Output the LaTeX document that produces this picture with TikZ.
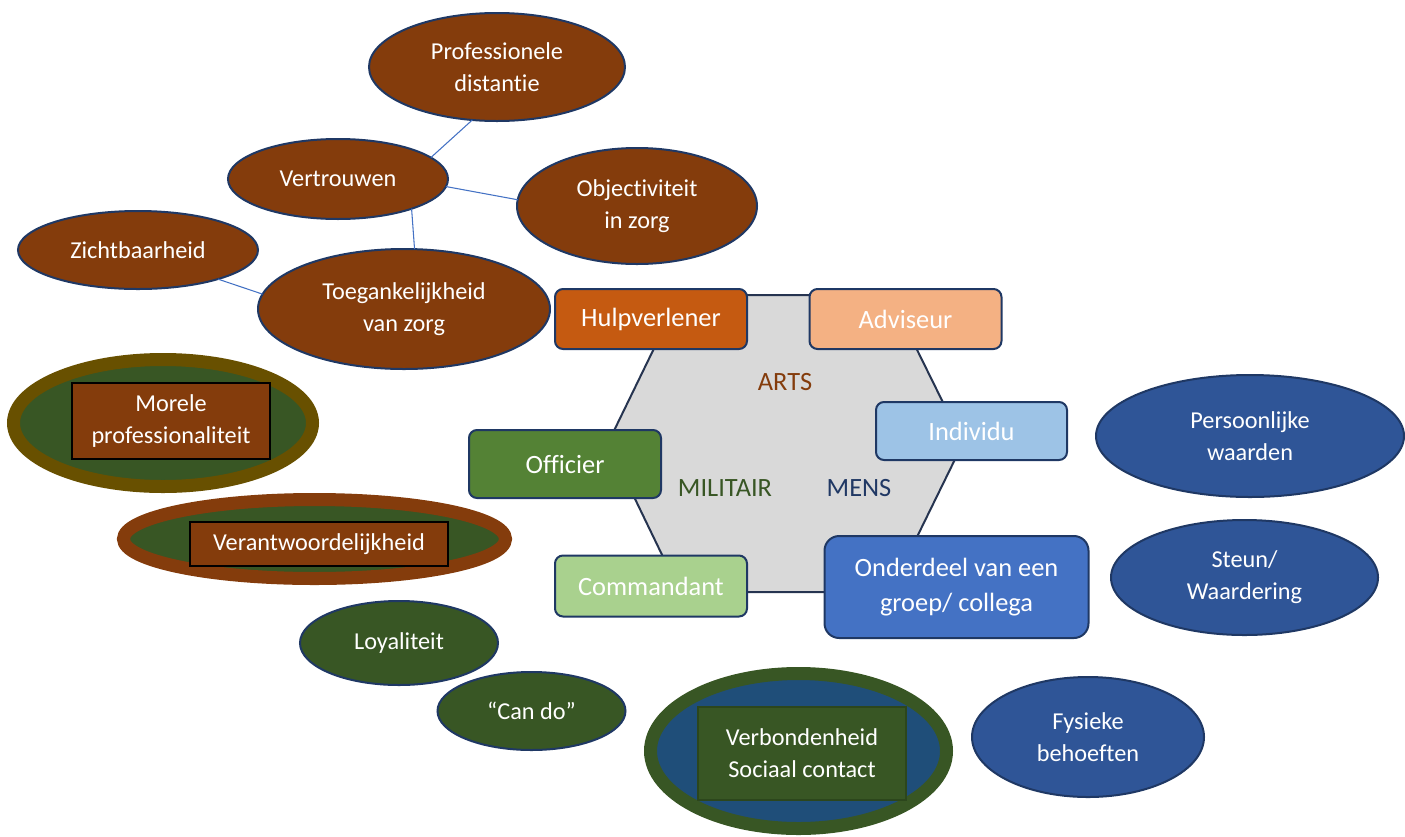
\documentclass[tikz,border=0pt]{standalone}
\usepackage{fontspec}
\setmainfont[Ligatures=NoCommon]{Carlito}
\usetikzlibrary{shapes.geometric}
\definecolor{brn}{RGB}{132,60,12}
\definecolor{navy}{RGB}{31,56,100}
\definecolor{hulpc}{RGB}{197,90,17}
\definecolor{advc}{RGB}{244,177,131}
\definecolor{indc}{RGB}{157,195,230}
\definecolor{offc}{RGB}{84,130,53}
\definecolor{comc}{RGB}{169,209,142}
\definecolor{ondc}{RGB}{68,114,196}
\definecolor{dkgreen}{RGB}{56,86,36}
\definecolor{olive}{RGB}{104,80,0}
\definecolor{verbblue}{RGB}{31,78,121}
\definecolor{rblue}{RGB}{47,85,151}
\definecolor{hexfill}{RGB}{217,217,217}
\definecolor{hexline}{RGB}{38,52,80}
\definecolor{conn}{RGB}{68,114,196}
\definecolor{lblnavy}{RGB}{32,56,100}
\definecolor{rectgreen}{RGB}{44,70,28}
\newcommand\diagfont{\fontsize{18.2}{24}\selectfont}
\newcommand\boxfont{\fontsize{19.8}{26.2}\selectfont}
\tikzset{
  base/.style={font=\diagfont, text=white, align=center, inner sep=0pt, outer sep=0pt},
  bell/.style n args={3}{base, ellipse, draw=navy, line width=1.5pt, fill=#3, minimum width=#1*1.5pt, minimum height=#2*1.5pt},
  ring/.style n args={4}{ellipse, draw=#4, line width=9.75pt, fill=#3, minimum width=#1*1.5pt, minimum height=#2*1.5pt, inner sep=0pt},
  rbox/.style n args={3}{base, font=\boxfont, rectangle, rounded corners=6pt, draw=navy, line width=1.5pt, fill=#3, minimum width=#1*0.75pt, minimum height=#2*0.75pt},
  ibox/.style n args={4}{base, rectangle, draw=#4, line width=1.2pt, fill=#3, minimum width=#1*0.75pt, minimum height=#2*0.75pt},
  link/.style={draw=conn, line width=0.8pt},
  lbl/.style={font=\boxfont, inner sep=0pt},
}
\begin{document}
\begin{tikzpicture}[x=0.75pt, y=-0.75pt]
\useasboundingbox (0,0) rectangle (1405,836);

% hexagon
\draw[fill=hexfill, draw=hexline, line width=1.5pt]
  (680,295) -- (890,295) -- (963,443) -- (890,592) -- (680,592) -- (608,443) -- cycle;

% top-left cluster
\node[bell={128}{54}{brn}] (prof) at (497,67) {Professionele\\distantie};
\node[bell={110}{40}{brn}] (vert) at (338,179) {Vertrouwen};
\node[bell={120}{58}{brn}] (obj) at (637,206) {Objectiviteit\\in zorg};
\node[bell={120}{39}{brn}] (zicht) at (138,250) {Zichtbaarheid};
\node[bell={146}{60}{brn}] (toeg) at (404,309) {Toegankelijkheid\\van zorg};

\draw[link] (prof.-115) -- (vert.13);
\draw[link] (vert.-4) -- (obj.177);
\draw[link] (vert.-22) -- (toeg.80);
\draw[link] (zicht.-20) -- (toeg.174);

% role boxes
\node[rbox={192}{60}{hulpc}] (hulp) at (651,319) {Hulpverlener};
\node[rbox={192}{60}{advc}] (adv) at (905.5,319) {Adviseur};
\node[rbox={191}{58}{indc}] (indiv) at (971.5,431) {Individu};
\node[rbox={192}{68}{offc}] (off) at (565,464) {Officier};
\node[rbox={192}{61}{comc}] (comm) at (651,586) {Commandant};
\node[rbox={264}{102}{ondc}, rounded corners=11pt] (ond) at (956.5,587) {Onderdeel van een\\groep/ collega};

\node[lbl, text=brn] (arts) at (785,382) {ARTS};
\node[lbl, text=dkgreen] (mil) at (725,488) {MILITAIR};
\node[lbl, text=lblnavy] (mens) at (859,488) {MENS};

% left side
\node[ring={149.5}{63.5}{dkgreen}{olive}] (morring) at (163,423) {};
\node[ibox={198}{76}{brn}{black}] (morele) at (171,421) {Morele\\professionaliteit};
\node[ring={191}{39.5}{dkgreen}{brn}] (verring) at (314.5,539) {};
\node[ibox={258}{44}{brn}{black}] (verant) at (319,544) {Verantwoordelijkheid};
\node[bell={99}{42}{dkgreen}] (loyal) at (399,643) {Loyaliteit};
\node[bell={94}{39}{dkgreen}] (cando) at (531.5,711) {“Can do”};
\node[ring={148}{77.5}{verbblue}{dkgreen}] (verbring) at (798.5,751) {};
\node[ibox={208}{93}{dkgreen}{rectgreen}] (verb) at (802,753.5) {Verbondenheid\\Sociaal contact};

% right side
\node[bell={154}{61}{rblue}] (pers) at (1250,436) {Persoonlijke\\waarden};
\node[bell={133.5}{57.5}{rblue}] (steun) at (1244.5,577.5) {Steun/\\Waardering};
\node[bell={116}{60}{rblue}] (fys) at (1088,737) {Fysieke\\behoeften};
\end{tikzpicture}
\end{document}
